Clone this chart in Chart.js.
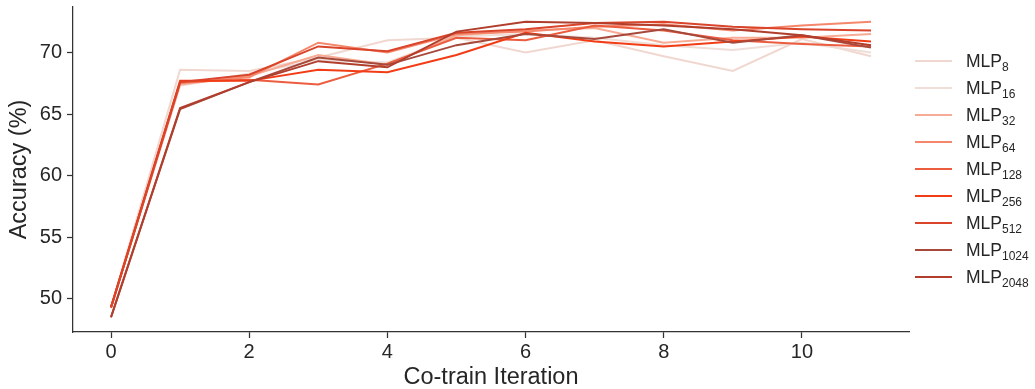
<!DOCTYPE html>
<html>
<head>
<meta charset="utf-8">
<script src="https://cdn.jsdelivr.net/npm/chart.js@4.4.1/dist/chart.umd.min.js"></script>
<style>
  html, body { margin: 0; padding: 0; background: #fff; }
  body { width: 1035px; height: 389px; position: relative; overflow: hidden; font-family: "Liberation Sans", Arial, sans-serif; }
  #wrap { position: absolute; left: 0; top: 0; width: 910px; height: 389px; }
  #legend { position: absolute; left: 0; top: 0; width: 1035px; height: 389px; pointer-events: none; }
  .item { position: absolute; left: 915px; height: 26px; display: flex; align-items: center; color: #262626; font-size: 17.5px; white-space: nowrap; }
  .sw { width: 37px; height: 2px; margin-right: 14px; }
  .item sub { font-size: 12px; vertical-align: -4px; line-height: 0; }
</style>
</head>
<body>
<div id="wrap"><canvas id="c" width="910" height="389"></canvas></div>
<div id="legend"></div>
<script>
// ---- data ----
const iterations = [0, 1, 2, 3, 4, 5, 6, 7, 8, 9, 10, 11];
const seriesNames = ["8", "16", "32", "64", "128", "256", "512", "1024", "2048"];
const mlp8    = [49.3, 68.6, 68.5, 69.6, 71.0, 71.2, 70.0, 71.0, 69.7, 68.5, 71.1, 69.7];
const mlp16   = [49.3, 67.3, 68.3, 69.4, 69.2, 71.3, 71.5, 71.2, 70.6, 70.2, 70.8, 70.0];
const mlp32   = [49.3, 67.4, 68.1, 69.8, 69.0, 71.4, 71.8, 72.0, 70.8, 71.2, 71.2, 71.5];
const mlp64   = [49.3, 67.5, 68.0, 70.8, 70.0, 71.5, 71.7, 72.1, 72.3, 71.8, 72.2, 72.5];
const mlp128  = [49.3, 67.6, 67.8, 67.4, 69.1, 71.2, 71.0, 72.2, 71.8, 71.0, 70.7, 70.5];
const mlp256  = [49.3, 67.7, 67.7, 68.6, 68.4, 69.8, 71.6, 70.9, 70.5, 70.9, 71.3, 70.9];
const mlp512  = [49.3, 67.6, 68.2, 70.5, 70.1, 71.6, 71.9, 72.4, 72.5, 72.1, 71.9, 71.8];
const mlp1024 = [48.5, 65.4, 67.6, 69.6, 69.0, 70.6, 71.5, 71.1, 71.9, 70.8, 71.4, 70.4];
const mlp2048 = [48.5, 65.5, 67.6, 69.3, 68.8, 71.7, 72.5, 72.4, 72.2, 71.9, 71.4, 70.6];
const seriesValues = [mlp8, mlp16, mlp32, mlp64, mlp128, mlp256, mlp512, mlp1024, mlp2048];
const xTicks = [0, 2, 4, 6, 8, 10];
const yTicks = [50, 55, 60, 65, 70];

// ---- style ----
const colors = ["#f0d8d0", "#efddd8", "#f8ab94", "#f4876c", "#ec5c3f", "#f23c15", "#d9442a", "#a6493b", "#b13e2c"];
const textColor = "#262626";
const axisColor = "#333333";

const datasets = seriesValues.map((vals, i) => ({
  label: "MLP" + seriesNames[i],
  data: iterations.map((x, j) => ({ x: x, y: vals[j] })),
  borderColor: colors[i],
  backgroundColor: colors[i],
  borderWidth: 2,
  pointRadius: 0,
  tension: 0,
  fill: false,
  order: seriesValues.length - i
}));

new Chart(document.getElementById("c"), {
  type: "line",
  data: { datasets },
  options: {
    responsive: false,
    animation: false,
    events: [],
    layout: { padding: { top: 7, right: 1, left: 0, bottom: 0 } },
    plugins: { legend: { display: false }, tooltip: { enabled: false } },
    scales: {
      x: {
        type: "linear",
        min: -0.55, max: 11.55,
        afterBuildTicks: s => { s.ticks = xTicks.map(v => ({ value: v })); },
        afterFit: s => { s.height = 57; s.paddingLeft = 0; s.paddingRight = 0; },
        grid: { drawOnChartArea: false, drawTicks: true, tickLength: 6, tickWidth: 1.25, tickColor: axisColor },
        border: { display: true, color: axisColor, width: 1.25 },
        ticks: { color: textColor, padding: 2, font: { family: "Liberation Sans", size: 20 } },
        title: { display: true, text: "Co-train Iteration", color: textColor, padding: { top: 0, bottom: 0 },
                 font: { family: "Liberation Sans", size: 23.5, lineHeight: 1 } }
      },
      y: {
        type: "linear",
        min: 47.3, max: 73.7,
        afterBuildTicks: s => { s.ticks = yTicks.map(v => ({ value: v })); },
        afterFit: s => { s.width = 73; s.paddingTop = 0; s.paddingBottom = 0; },
        grid: { drawOnChartArea: false, drawTicks: true, tickLength: 6, tickWidth: 1.25, tickColor: axisColor },
        border: { display: true, color: axisColor, width: 1.25 },
        ticks: { color: textColor, padding: 5, font: { family: "Liberation Sans", size: 20 } },
        title: { display: true, text: "Accuracy (%)", color: textColor, padding: { top: 8, bottom: 0 },
                 font: { family: "Liberation Sans", size: 23.5, lineHeight: 1 } }
      }
    }
  }
});

// ---- legend (HTML, real text with subscripts) ----
const legend = document.getElementById("legend");
seriesNames.forEach((n, i) => {
  const d = document.createElement("div");
  d.className = "item";
  d.style.top = (61 + i * 27 - 13) + "px";
  d.innerHTML = '<span class="sw" style="background:' + colors[i] + '"></span><span>MLP<sub>' + n + '</sub></span>';
  legend.appendChild(d);
});
</script>
</body>
</html>
